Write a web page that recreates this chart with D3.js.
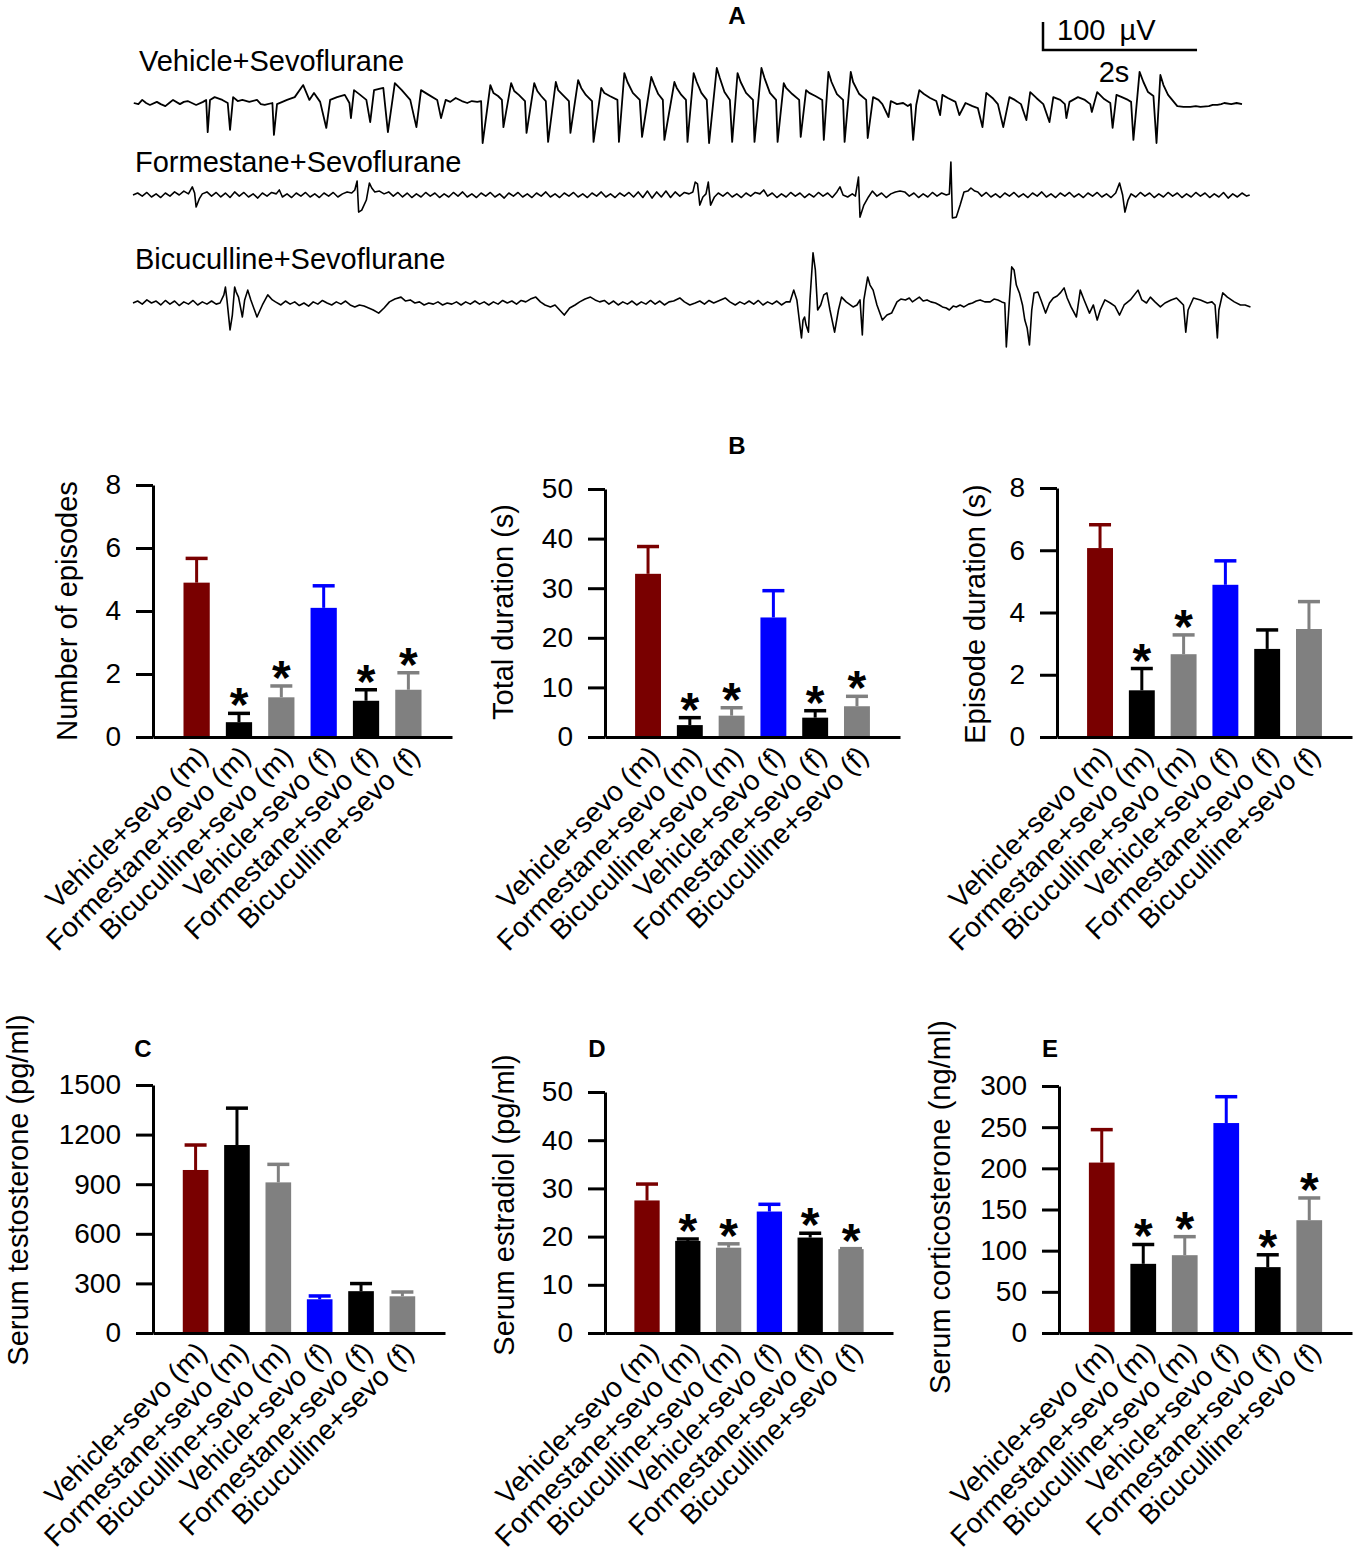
<!DOCTYPE html>
<html><head><meta charset="utf-8">
<script src="https://cdn.jsdelivr.net/npm/d3@7"></script>
<style>
body{margin:0;background:#fff}
svg text{font-family:"Liberation Sans",Arial,sans-serif;fill:#000}
</style>
</head><body>
<svg id="c" width="1359" height="1560"></svg>
<script>
// ---------------- DATA ----------------
const categories = ["Vehicle+sevo (m)","Formestane+sevo (m)","Bicuculline+sevo (m)","Vehicle+sevo (f)","Formestane+sevo (f)","Bicuculline+sevo (f)"];
const traceLabels = ["Vehicle+Sevoflurane","Formestane+Sevoflurane","Bicuculline+Sevoflurane"];

// B: seizure measures (mean, SEM, significance)
const episodesMean = [4.9,0.47,1.26,4.1,1.15,1.5];
const episodesSem  = [0.77,0.28,0.36,0.7,0.35,0.54];
const episodesSig  = [0,1,1,0,1,1];
const episodesTicks = [0,2,4,6,8];

const totalDurMean = [32.9,2.4,4.3,24.1,3.9,6.2];
const totalDurSem  = [5.5,1.5,1.6,5.4,1.4,2.0];
const totalDurSig  = [0,1,1,0,1,1];
const totalDurTicks = [0,10,20,30,40,50];

const episodeDurMean = [6.07,1.5,2.66,4.89,2.83,3.47];
const episodeDurSem  = [0.75,0.7,0.62,0.77,0.61,0.88];
const episodeDurSig  = [0,1,1,0,0,0];
const episodeDurTicks = [0,2,4,6,8];

// C: testosterone
const testoMean = [986,1137,911,204,253,222];
const testoSem  = [151,223,109,20,46,26];
const testoSig  = [0,0,0,0,0,0];
const testoTicks = [0,300,600,900,1200,1500];

// D: estradiol
const estraMean = [27.5,19.1,17.7,25.2,19.8,17.4];
const estraSem  = [3.4,0.4,0.8,1.5,0.9,0.1];
const estraSig  = [0,1,1,0,1,1];
const estraTicks = [0,10,20,30,40,50];

// E: corticosterone
const cortMean = [207,84,94.5,255,80,137];
const cortSem  = [40,23.5,22.5,32,15,27];
const cortSig  = [0,1,1,0,1,1];
const cortTicks = [0,50,100,150,200,250,300];

// A: EEG traces, [time (s), amplitude (µV)]
const traceVehicle = [[0.01,0],[0.07,-4],[0.12,11],[0.17,0],[0.22,-7],[0.31,4],[0.36,-4],[0.42,-11],[0.47,0],[0.52,11],[0.61,-4],[0.66,4],[0.71,7],[0.82,-7],[0.91,4],[0.95,11],[0.97,-104],[1.00,11],[1.06,21],[1.16,11],[1.23,0],[1.26,-96],[1.30,21],[1.36,7],[1.42,11],[1.51,4],[1.61,11],[1.66,-4],[1.71,-7],[1.81,0],[1.83,-114],[1.87,-4],[1.94,4],[2.00,11],[2.10,21],[2.21,64],[2.29,11],[2.35,36],[2.43,4],[2.51,-89],[2.56,11],[2.65,21],[2.75,29],[2.81,0],[2.83,-54],[2.87,46],[2.95,29],[3.03,11],[3.08,-68],[3.13,46],[3.25,54],[3.31,-104],[3.40,71],[3.49,46],[3.60,11],[3.68,-86],[3.74,46],[3.84,29],[3.95,11],[4.00,-54],[4.06,11],[4.12,4],[4.19,18],[4.27,7],[4.34,0],[4.40,7],[4.47,4],
[4.52,7],[4.54,-143],[4.64,64],[4.68,36],[4.74,25],[4.79,11],
[4.81,-86],[4.91,71],[4.95,43],[5.01,29],[5.09,7],
[5.11,-107],[5.21,71],[5.25,43],[5.30,25],[5.36,7],
[5.39,-139],[5.49,75],[5.52,46],[5.58,29],[5.66,7],
[5.68,-107],[5.78,82],[5.82,54],[5.88,29],[5.96,7],
[5.98,-139],[6.08,54],[6.12,36],[6.19,25],[6.29,11],
[6.31,-139],[6.38,107],[6.42,75],[6.49,36],[6.58,11],
[6.61,-121],[6.73,93],[6.77,64],[6.82,32],[6.88,11],
[6.90,-132],[7.03,75],[7.06,54],[7.12,29],[7.18,11],
[7.20,-139],[7.28,107],[7.32,75],[7.38,36],[7.45,11],
[7.48,-143],[7.58,125],[7.62,89],[7.68,39],[7.75,11],
[7.78,-139],[7.85,107],[7.89,75],[7.96,36],[8.05,11],
[8.07,-139],[8.16,125],[8.20,89],[8.27,36],[8.35,11],
[8.37,-139],[8.45,71],[8.48,54],[8.56,32],[8.65,11],
[8.67,-121],[8.74,46],[8.78,36],[8.86,25],[8.95,11],
[8.97,-132],[9.03,111],[9.07,75],[9.14,32],[9.22,11],
[9.24,-139],[9.32,111],[9.35,75],[9.43,32],[9.52,11],
[9.54,-125],[9.61,21],[9.68,11],
[9.73,-4],[9.81,-50],[9.84,7],[9.92,-4],[10.00,0],[10.06,-11],[10.10,-4],[10.13,-132],[10.17,-7],[10.21,46],[10.27,32],[10.35,18],[10.43,7],[10.48,-43],[10.51,29],[10.58,18],[10.68,4],[10.73,-43],[10.81,0],[10.90,-11],[10.97,-18],[11.03,-86],[11.08,36],[11.16,18],[11.23,-4],[11.30,-86],[11.38,21],[11.45,11],[11.53,-4],[11.60,-61],[11.65,39],[11.73,18],[11.82,-4],[11.90,-68],[11.95,21],[12.04,11],[12.10,-4],[12.12,-54],[12.16,4],[12.27,21],[12.36,11],[12.43,-4],[12.45,-32],[12.52,39],[12.61,14],[12.69,0],[12.72,-89],[12.77,29],[12.84,21],[12.92,11],[12.96,4],[12.99,-132],[13.07,111],[13.12,75],[13.18,39],[13.25,25],[13.29,-143],[13.34,100],[13.38,64],[13.44,29],[13.56,-11],[13.64,-14],[13.73,-14],[13.80,-11],[13.86,-14],[13.97,-11],[14.02,-7],[14.08,-7],[14.13,-4],[14.17,0],[14.26,-4],[14.33,0],[14.40,-4]];

const traceFormestane = [[0,0],[0.06,7],[0.12,-4],[0.18,9],[0.24,-7],[0.30,4],[0.36,-9],[0.42,7],[0.48,-4],[0.54,11],[0.60,0],[0.66,14],[0.72,4],[0.77,29],[0.80,7],[0.82,-43],[0.86,-14],[0.90,4],[0.96,11],[1.02,-4],[1.08,9],[1.14,-7],[1.20,7],[1.26,-9],[1.32,11],[1.38,-4],[1.44,9],[1.50,-7],[1.56,4],[1.62,-11],[1.68,7],[1.74,-4],[1.80,9],[1.86,4],[1.90,18],[1.94,-7],[2.00,4],[2.06,-9],[2.12,7],[2.18,-4],[2.24,9],[2.30,-7],[2.36,4],[2.42,-9],[2.48,7],[2.54,-4],[2.60,9],[2.66,-7],[2.72,4],[2.78,11],[2.84,7],[2.88,18],[2.91,50],[2.93,-61],[2.97,-54],[3.03,-18],[3.07,43],[3.10,25],[3.14,11],[3.20,14],[3.26,4],[3.32,11],[3.38,-4],[3.44,9],[3.50,-7],[3.56,7],[3.62,-9],[3.68,4],[3.74,-7],[3.80,9],[3.86,-4],[3.92,7],[3.98,-9],[4.04,4],[4.10,-7],[4.16,9],[4.22,-4],[4.28,11],[4.34,-7],[4.40,4],[4.46,-9],[4.52,7],[4.58,-4],[4.64,9],[4.70,-7],[4.76,4],[4.82,-11],[4.88,7],[4.94,-4],[5.00,9],[5.06,-7],[5.12,4],[5.18,-9],[5.24,7],[5.30,-4],[5.36,11],[5.42,-7],[5.48,4],[5.54,-9],[5.60,7],[5.66,-4],[5.72,9],[5.78,-7],[5.84,4],[5.90,-9],[5.96,7],[6.02,-4],[6.08,11],[6.14,-7],[6.20,4],[6.26,-9],[6.32,7],[6.38,-4],[6.44,9],[6.50,-7],[6.56,11],[6.62,-9],[6.68,14],[6.74,-11],[6.80,11],[6.86,-7],[6.92,14],[6.98,-9],[7.04,11],[7.10,-4],[7.16,9],[7.22,4],[7.27,11],[7.30,46],[7.33,40],[7.36,-36],[7.40,-7],[7.44,4],[7.47,46],[7.50,-36],[7.55,-7],[7.60,7],[7.66,-4],[7.72,9],[7.78,-7],[7.84,4],[7.90,-9],[7.96,7],[8.02,-4],[8.08,9],[8.14,4],[8.19,18],[8.24,-4],[8.30,7],[8.36,-9],[8.42,4],[8.48,-7],[8.54,9],[8.60,-4],[8.66,7],[8.72,-9],[8.78,4],[8.84,-7],[8.90,9],[8.96,-4],[9.02,7],[9.08,-9],[9.14,11],[9.18,29],[9.22,0],[9.28,-7],[9.34,4],[9.38,-4],[9.42,64],[9.44,-79],[9.49,-36],[9.55,-7],[9.60,14],[9.66,-4],[9.72,7],[9.78,-9],[9.84,4],[9.90,11],[9.96,14],[10.02,11],[10.08,-4],[10.14,7],[10.20,-9],[10.26,4],[10.32,-7],[10.38,9],[10.44,-4],[10.50,7],[10.56,0],[10.60,4],[10.62,118],[10.64,-82],[10.69,-79],[10.74,-36],[10.79,11],[10.84,14],[10.88,25],[10.93,14],[10.97,11],[11.02,-4],[11.08,9],[11.14,-7],[11.20,4],[11.26,-9],[11.32,7],[11.38,-4],[11.44,9],[11.50,-7],[11.56,4],[11.62,-9],[11.68,7],[11.74,-4],[11.80,11],[11.86,-7],[11.92,4],[11.98,-9],[12.04,7],[12.10,-4],[12.16,9],[12.22,-7],[12.28,4],[12.34,-9],[12.40,7],[12.46,-4],[12.52,9],[12.58,-7],[12.64,4],[12.70,-9],[12.76,7],[12.81,43],[12.85,0],[12.88,-61],[12.92,-18],[12.96,4],[13.02,-7],[13.08,9],[13.14,-4],[13.20,7],[13.26,-9],[13.32,4],[13.38,-7],[13.44,9],[13.50,-4],[13.56,7],[13.62,-9],[13.68,4],[13.74,-7],[13.80,9],[13.86,-4],[13.92,7],[13.98,-9],[14.04,4],[14.10,-7],[14.16,9],[14.22,-11],[14.28,4],[14.34,-7],[14.40,7],[14.46,-4],[14.50,0]];

const traceBicuculline = [[0,0],[0.06,7],[0.12,-4],[0.18,11],[0.24,0],[0.30,7],[0.36,-7],[0.42,9],[0.48,-4],[0.54,7],[0.60,-9],[0.66,4],[0.72,-4],[0.78,9],[0.84,-7],[0.90,4],[0.96,-4],[1.02,7],[1.08,-4],
[1.13,0],[1.18,29],[1.20,57],[1.22,11],[1.26,-96],[1.29,-43],[1.32,57],[1.34,39],[1.37,21],[1.39,-7],[1.42,-50],[1.45,11],[1.49,46],[1.53,11],[1.61,-50],[1.68,-7],[1.75,29],[1.81,11],[1.85,4],
[1.92,-7],[1.98,7],[2.04,-4],[2.10,4],[2.16,-9],[2.22,0],[2.28,-11],[2.34,4],[2.40,-4],[2.46,9],[2.52,0],[2.58,-7],[2.64,4],[2.70,-4],[2.76,7],[2.82,-7],[2.88,-14],[2.94,-7],[3.00,-11],[3.06,-18],[3.12,-25],[3.19,-36],[3.26,-18],[3.33,4],[3.40,14],[3.48,21],[3.54,7],[3.60,11],[3.66,0],[3.72,4],[3.78,-7],[3.84,0],[3.90,-4],[3.96,4],[4.02,-7],[4.08,0],[4.14,-4],[4.20,4],[4.26,-7],[4.32,4],[4.38,-4],[4.44,7],[4.50,-4],[4.56,4],[4.62,-7],[4.68,4],[4.74,-4],[4.80,9],[4.86,0],[4.92,7],[4.98,-4],[5.04,9],[5.10,4],[5.16,14],[5.23,21],[5.29,4],[5.35,-7],[5.42,-14],[5.48,-7],[5.54,-25],[5.60,-43],[5.67,-18],[5.74,-7],[5.80,4],[5.87,14],[5.94,21],[6.00,11],[6.06,4],[6.12,9],[6.18,-4],[6.24,7],[6.30,-7],[6.36,4],[6.42,-4],[6.48,7],[6.54,-7],[6.60,4],[6.66,-4],[6.72,9],[6.78,-4],[6.84,7],[6.90,-7],[6.96,4],[7.02,7],[7.10,18],[7.16,4],[7.23,-7],[7.30,0],[7.36,7],[7.42,-4],[7.48,9],[7.54,0],[7.60,7],[7.69,18],[7.75,4],[7.82,-7],[7.88,4],[7.94,-4],[8.00,7],[8.06,-4],[8.12,9],[8.18,-7],[8.24,4],[8.30,-4],[8.36,7],[8.42,-7],[8.48,4],
[8.53,4],[8.58,46],[8.62,11],[8.68,-125],[8.70,-61],[8.72,-50],[8.74,-79],[8.77,-104],[8.79,11],[8.83,179],[8.86,118],[8.89,-25],[8.93,-7],[8.97,29],[9.01,36],[9.05,-25],[9.11,-104],[9.16,-25],[9.20,21],[9.26,4],[9.35,-14],[9.40,-7],[9.44,11],[9.47,-114],[9.49,11],[9.54,93],[9.57,64],[9.61,46],[9.66,-7],[9.73,-61],[9.79,-43],[9.85,-36],[9.92,4],[9.97,14],[10.03,11],[10.08,18],[10.12,4],[10.21,21],[10.26,7],[10.31,11],[10.36,4],[10.42,0],[10.47,-7],[10.51,-14],[10.56,-18],[10.60,-25],[10.65,-11],[10.69,-14],[10.74,-7],[10.79,-14],[10.85,-4],[10.90,0],[10.95,7],[11.00,11],[11.06,4],[11.13,4],[11.18,14],[11.23,11],[11.28,4],[11.32,0],
[11.34,-157],[11.38,11],[11.41,129],[11.44,118],[11.47,64],[11.51,36],[11.55,-7],[11.58,-61],[11.61,-89],[11.64,-150],[11.67,-25],[11.70,36],[11.75,39],[11.79,11],[11.85,-36],[11.90,0],[11.95,18],[12.00,25],[12.04,36],[12.09,54],[12.13,18],[12.18,-14],[12.25,-50],[12.30,46],[12.35,11],[12.42,-36],[12.47,-7],[12.52,-61],[12.56,-25],[12.62,11],[12.69,0],[12.75,-11],[12.81,-43],[12.87,-7],[12.95,11],[13.05,46],[13.10,11],[13.16,0],[13.21,21],[13.27,4],[13.34,-14],[13.40,0],[13.48,11],[13.55,18],[13.60,4],[13.64,-7],[13.67,-104],[13.70,-25],[13.77,18],[13.86,11],[13.95,0],[14.01,4],[14.05,-7],[14.08,-125],[14.10,-25],[14.15,36],[14.21,21],[14.30,4],[14.38,-7],[14.44,-7],[14.51,-14]];

const traces = [traceVehicle, traceFormestane, traceBicuculline];
const scaleBarUv = 100, scaleBarSec = 2;

// ---------------- STYLE / LAYOUT ----------------
const barColors = ["#790000","#000000","#808080","#0000ff","#000000","#808080"];
const svg = d3.select("#c");

// ---- Panel A ----
svg.append("text").attr("x",737).attr("y",24).attr("text-anchor","middle")
  .attr("font-size",24).attr("font-weight","bold").text("A");

const tx = d3.scaleLinear().domain([0,14.4]).range([133,1242]);
const amp = d3.scaleLinear().domain([0,100]).range([0,-28]);
const baselines = [103,195,303];
const labelPos = [[139,71],[135,172],[135,269]];

traces.forEach((tr,i)=>{
  const line = d3.line().x(d=>tx(d[0])).y(d=>baselines[i]+amp(d[1]));
  svg.append("path").datum(tr).attr("d",line).attr("fill","none")
    .attr("stroke","#000").attr("stroke-width", i===0?1.8:1.6).attr("stroke-linejoin","round");
  svg.append("text").attr("x",labelPos[i][0]).attr("y",labelPos[i][1])
    .attr("font-size",29).text(traceLabels[i]);
});

// scale bar
const sbx = 1043, sby = 50;
svg.append("path")
  .attr("d",`M${sbx},${sby+amp(scaleBarUv)} V${sby} H${sbx + tx(scaleBarSec)-tx(0)}`)
  .attr("fill","none").attr("stroke","#000").attr("stroke-width",2.5);
svg.append("text").attr("x",1057).attr("y",40).attr("font-size",29)
  .style("word-spacing","6px").text("100 µV");
svg.append("text").attr("x",1114).attr("y",82).attr("font-size",29)
  .attr("text-anchor","middle").text("2s");

// ---- Panel B letter ----
svg.append("text").attr("x",737).attr("y",454).attr("text-anchor","middle")
  .attr("font-size",24).attr("font-weight","bold").text("B");

function drawBars(cfg, means, sems, sig, ticks, title) {
  const g = svg.append("g");
  const x = d3.scaleBand().domain(categories).range([cfg.x0,cfg.x1])
    .paddingInner(0.38).paddingOuter(0.72);
  const y = d3.scaleLinear().domain([0,ticks[ticks.length-1]]).range([cfg.yBot,cfg.yTop]);
  const bw = x.bandwidth();
  const rows = categories.map((c,i)=>({c, m:means[i], s:sems[i], sig:sig[i], col:barColors[i]}));
  const cx = d => x(d.c)+bw/2;

  g.selectAll("rect.bar").data(rows).join("rect").attr("class","bar")
    .attr("x",d=>x(d.c)).attr("width",bw)
    .attr("y",d=>y(d.m)).attr("height",d=>y(0)-y(d.m)).attr("fill",d=>d.col);
  g.selectAll("line.eb").data(rows).join("line").attr("class","eb")
    .attr("x1",cx).attr("x2",cx).attr("y1",d=>y(d.m)).attr("y2",d=>y(d.m+d.s))
    .attr("stroke",d=>d.col).attr("stroke-width",3);
  g.selectAll("line.cap").data(rows).join("line").attr("class","cap")
    .attr("x1",d=>cx(d)-11).attr("x2",d=>cx(d)+11)
    .attr("y1",d=>y(d.m+d.s)).attr("y2",d=>y(d.m+d.s))
    .attr("stroke",d=>d.col).attr("stroke-width",3.5);
  g.selectAll("text.star").data(rows.filter(d=>d.sig)).join("text").attr("class","star")
    .attr("x",cx).attr("y",d=>y(d.m+d.s)+8).attr("text-anchor","middle")
    .attr("font-size",48).attr("font-weight","bold").text("*");

  const ya = g.append("g").attr("transform",`translate(${cfg.x0},0)`)
    .call(d3.axisLeft(y).tickValues(ticks).tickSize(17).tickPadding(15).tickSizeOuter(0).tickFormat(d3.format("d")));
  ya.select(".domain").attr("stroke-width",3);
  ya.selectAll(".tick line").attr("stroke-width",3);
  ya.selectAll(".tick text").attr("font-size",28).attr("font-family",null).attr("fill","#000");

  const xa = g.append("g").attr("transform",`translate(0,${cfg.yBot})`)
    .call(d3.axisBottom(x).tickSize(0).tickSizeOuter(0));
  xa.select(".domain").attr("stroke-width",3);
  xa.selectAll(".tick text").attr("font-size",28).attr("font-family",null).attr("fill","#000")
    .attr("x",0).attr("y",0).attr("dy",null).attr("text-anchor","end")
    .attr("transform","translate(13,21) rotate(-45)");

  g.append("text").attr("transform",`translate(${cfg.tx},${cfg.ty}) rotate(-90)`)
    .attr("text-anchor","middle").attr("dy","0.35em").attr("font-size",29).text(title);
  if (cfg.letter) {
    g.append("text").attr("x",cfg.lx).attr("y",cfg.ly).attr("text-anchor","middle")
      .attr("font-size",24).attr("font-weight","bold").text(cfg.letter);
  }
}

drawBars({x0:153,x1:452,yTop:485,yBot:737,tx:67,ty:611}, episodesMean, episodesSem, episodesSig, episodesTicks, "Number of episodes");
drawBars({x0:605,x1:900,yTop:489,yBot:737,tx:503,ty:612}, totalDurMean, totalDurSem, totalDurSig, totalDurTicks, "Total duration (s)");
drawBars({x0:1057,x1:1352,yTop:488,yBot:737,tx:975,ty:614}, episodeDurMean, episodeDurSem, episodeDurSig, episodeDurTicks, "Episode duration (s)");
drawBars({x0:153,x1:445,yTop:1085,yBot:1333,tx:18,ty:1190,letter:"C",lx:143,ly:1057}, testoMean, testoSem, testoSig, testoTicks, "Serum testosterone (pg/ml)");
drawBars({x0:605,x1:893,yTop:1092,yBot:1333,tx:504,ty:1205,letter:"D",lx:597,ly:1057}, estraMean, estraSem, estraSig, estraTicks, "Serum estradiol (pg/ml)");
drawBars({x0:1059,x1:1352,yTop:1086,yBot:1333,tx:940,ty:1207,letter:"E",lx:1050,ly:1057}, cortMean, cortSem, cortSig, cortTicks, "Serum corticosterone (ng/ml)");
</script>
</body></html>
